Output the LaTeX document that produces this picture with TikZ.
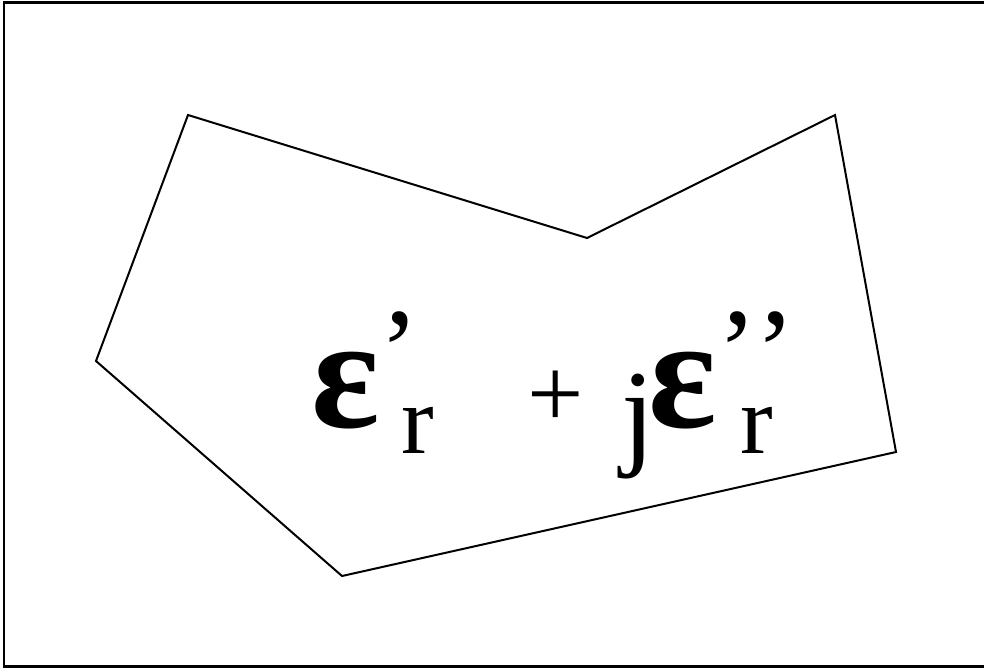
\documentclass[tikz,border=0pt]{standalone}
\usepackage{fontspec}
\setmainfont{Liberation Serif}
\begin{document}
\begin{tikzpicture}[x=1pt,y=-1pt,
  frame/.style={line width=2.6pt},
  poly/.style={line width=2pt, line join=miter},
  glyph/.style={inner sep=0pt, outer sep=0pt, anchor=base west}]
\useasboundingbox (0,0) rectangle (984,669);
\begin{scope}
\clip (0,0) rectangle (984,669);
\draw[frame] (990,2.5) -- (4,2.5) -- (4,666.5) -- (990,666.5);
\end{scope}
\coordinate (p1) at (188,115);
\coordinate (p2) at (587,238);
\coordinate (p3) at (835,115);
\coordinate (p4) at (896,452);
\coordinate (p5) at (342,576);
\coordinate (p6) at (96,361);
\draw[poly] (p1) -- (p2) -- (p3) -- (p4) -- (p5) -- (p6) -- cycle;
\node[glyph] (e1) at (311,427) {\fontsize{160}{160}\selectfont\bfseries ε};
\node[glyph] (q1) at (379,391) {\fontsize{120}{120}\selectfont ’};
\node[glyph] (r1) at (401,453) {\fontsize{98}{98}\selectfont r};
\node[glyph] (pl) at (527,427) {\fontsize{100}{100}\selectfont +};
\node[glyph] (j) at (621,453) {\fontsize{120}{120}\selectfont j};
\node[glyph] (e2) at (648,427) {\fontsize{160}{160}\selectfont\bfseries ε};
\node[glyph] (q2) at (717,391) {\fontsize{120}{120}\selectfont ’};
\node[glyph] (q3) at (755,391) {\fontsize{120}{120}\selectfont ’};
\node[glyph] (r2) at (740,453) {\fontsize{98}{98}\selectfont r};
\end{tikzpicture}
\end{document}
